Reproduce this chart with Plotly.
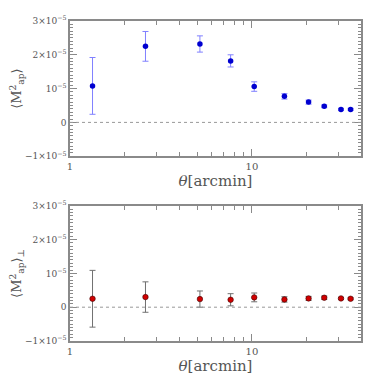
import plotly.graph_objects as go
from plotly.subplots import make_subplots

# angular scales [arcmin]
theta = [1.33, 2.60, 5.18, 7.64, 10.3, 15.1, 20.5, 25.0, 30.9, 34.9]

# E-mode aperture mass dispersion (units of 1e-5)
map_e = [1.08, 2.25, 2.32, 1.82, 1.06, 0.77, 0.60, 0.475, 0.385, 0.385]
map_e_err = [0.84, 0.44, 0.24, 0.18, 0.14, 0.08, 0.06, 0.04, 0.03, 0.03]

# B-mode (cross) aperture mass dispersion (units of 1e-5)
map_b = [0.25, 0.30, 0.24, 0.22, 0.29, 0.23, 0.26, 0.28, 0.26, 0.25]
map_b_err = [0.84, 0.45, 0.24, 0.18, 0.13, 0.08, 0.06, 0.05, 0.03, 0.03]

ytick_vals = [-1e-5, 0, 1e-5, 2e-5, 3e-5]
ytick_text = ["\u22121\u00d710<sup>\u22125</sup>", "0", "10<sup>\u22125</sup>",
              "2\u00d710<sup>\u22125</sup>", "3\u00d710<sup>\u22125</sup>"]

SERIF = "DejaVu Serif"
AXIS_GREY = "#8a8a8a"
TEXT_GREY = "#555555"

fig = make_subplots(rows=2, cols=1, vertical_spacing=0.155)

fig.add_trace(
    go.Scatter(
        x=theta,
        y=[v * 1e-5 for v in map_e],
        mode="markers",
        marker=dict(color="#0000d0", size=5.5),
        error_y=dict(type="data", array=[e * 1e-5 for e in map_e_err],
                     color="#8080ff", thickness=1, width=3),
        showlegend=False,
    ),
    row=1, col=1,
)

fig.add_trace(
    go.Scatter(
        x=theta,
        y=[v * 1e-5 for v in map_b],
        mode="markers",
        marker=dict(color="#d00000", size=5.5, line=dict(color="#400000", width=0.6)),
        error_y=dict(type="data", array=[e * 1e-5 for e in map_b_err],
                     color="#707070", thickness=1, width=3),
        showlegend=False,
    ),
    row=2, col=1,
)

# dotted zero lines
for xr, yr in (("x domain", "y"), ("x2 domain", "y2")):
    fig.add_shape(type="line", xref=xr, yref=yr, x0=0, x1=1, y0=0, y1=0,
                  line=dict(color="#999999", width=1, dash="dot"))

fig.update_xaxes(
    type="log",
    range=[0, 1.6],
    tickvals=[1, 10],
    ticktext=["1", "10"],
    ticks="inside",
    ticklen=7,
    tickcolor=AXIS_GREY,
    minor=dict(tickvals=[2, 3, 4, 5, 6, 7, 8, 9, 20, 30], ticks="inside",
               ticklen=4, tickcolor=AXIS_GREY),
    showline=True,
    linecolor=AXIS_GREY,
    linewidth=1.5,
    mirror="allticks",
    showgrid=False,
    zeroline=False,
    automargin=False,
    tickfont=dict(family=SERIF, size=10, color=TEXT_GREY),
    title=dict(text="<i>\u03b8</i>[arcmin]", font=dict(family=SERIF, size=15, color=TEXT_GREY),
               standoff=2),
)

fig.update_yaxes(
    range=[-1e-5, 3e-5],
    tickvals=ytick_vals,
    ticktext=ytick_text,
    ticks="inside",
    ticklen=7,
    tickcolor=AXIS_GREY,
    minor=dict(dtick=1e-6, ticks="inside", ticklen=3, tickcolor=AXIS_GREY),
    showline=True,
    linecolor=AXIS_GREY,
    linewidth=1.5,
    mirror="allticks",
    showgrid=False,
    zeroline=False,
    automargin=False,
    tickfont=dict(family=SERIF, size=9, color=TEXT_GREY),
)

fig.update_yaxes(
    title=dict(text="\u27e8M<sup>2</sup><sub>ap</sub>\u27e9",
               font=dict(family=SERIF, size=13, color=TEXT_GREY), standoff=2),
    row=1, col=1,
)
fig.update_yaxes(
    title=dict(text="\u27e8M<sup>2</sup><sub>ap</sub>\u27e9<sub>\u22a5</sub>",
               font=dict(family=SERIF, size=13, color=TEXT_GREY), standoff=2),
    row=2, col=1,
)

# the page body adds an 8px offset, so the figure is 374px and left/top margins shrink
fig.update_layout(
    width=374,
    height=374,
    margin=dict(l=62, r=21, t=13, b=41),
    plot_bgcolor="white",
    paper_bgcolor="white",
)

fig.write_html("out.html")
